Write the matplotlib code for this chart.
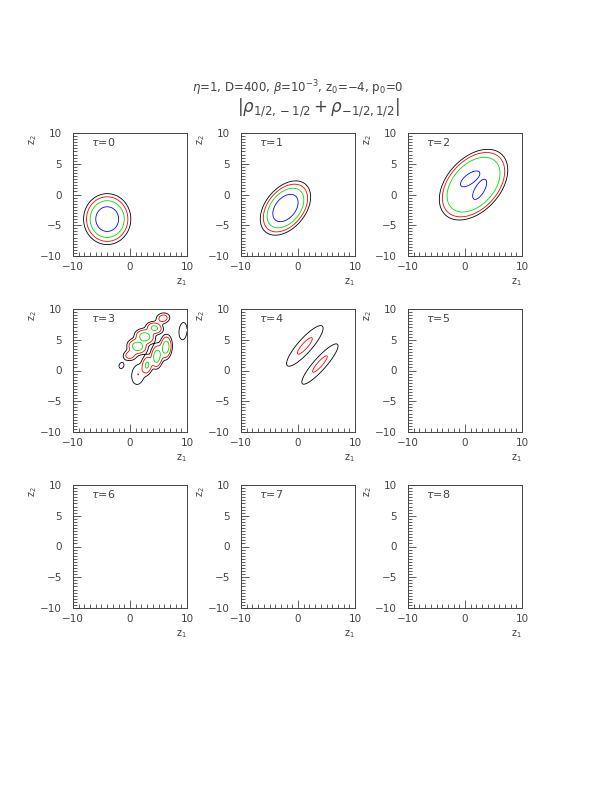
# Contours of |rho_{1/2,-1/2} + rho_{-1/2,1/2}| in the (z1, z2) plane for nine times tau
import numpy as np
import matplotlib
matplotlib.use("Agg")
import matplotlib.pyplot as plt
from matplotlib.ticker import MultipleLocator

taus = [0, 1, 2, 3, 4, 5, 6, 7, 8]

# contour levels and their colours
levels = [0.02, 0.05, 0.13, 0.40]
level_colors = ["black", "red", "#00dd00", "blue"]

# blobs: panel, centre, widths, tilt (deg), height, shape order
blob_tau = [0, 1, 2, 2, 2,
            3, 3, 3, 3, 3, 3, 3, 3, 3, 3, 3,
            4, 4]
blob_x = [-4.0, -2.2, 1.5, 0.8, 2.6,
          4.3, 2.6, 1.3, 5.8, 0.0, 6.3, 4.7, 3.0, 9.3, 1.4, -1.5,
          1.2, 3.85]
blob_y = [-4.0, -2.2, 1.6, 2.6, 0.65,
          6.9, 5.5, 3.9, 8.5, 2.5, 3.8, 2.3, 0.9, 6.4, -0.65, 0.8,
          4.0, 1.05]
blob_sa = [1.48, 1.85, 3.78, 1.05, 1.05,
           0.75, 0.85, 0.85, 0.7, 0.7, 0.95, 0.95, 0.8, 1.1, 1.2, 0.55,
           3.0, 3.0]
blob_sb = [1.48, 1.2, 2.43, 0.42, 0.42,
           0.5, 0.6, 0.6, 0.5, 0.5, 0.52, 0.52, 0.48, 0.55, 0.8, 0.45,
           0.8, 0.7]
blob_angle = [0, 45, 42, 33, 58,
              -10, -10, -10, 10, 10, 85, 85, 85, 85, 80, 60,
              46, 46]
blob_amp = [1.0, 1.1, 0.37, 0.3, 0.3,
            0.17, 0.22, 0.22, 0.085, 0.085, 0.22, 0.22, 0.15, 0.045, 0.05, 0.03,
            0.06, 0.06]
blob_order = [1, 1, 2, 1, 1,
              1, 1, 1, 1, 1, 1, 1, 1, 1, 1, 1,
              1, 1]

title1 = r"$\eta$=1, D=400, $\beta$=10$^{-3}$, z$_0$=$-$4, p$_0$=0"
title2 = r"$|\rho_{1/2,-1/2}+\rho_{-1/2,1/2}|$"

grid = np.linspace(-10, 10, 241)
X, Y = np.meshgrid(grid, grid)


def field_for(tau):
    f = np.zeros_like(X)
    for i in range(len(blob_tau)):
        if blob_tau[i] != tau:
            continue
        a = np.radians(blob_angle[i])
        dx = X - blob_x[i]
        dy = Y - blob_y[i]
        u = dx * np.cos(a) + dy * np.sin(a)
        v = -dx * np.sin(a) + dy * np.cos(a)
        q = (u / blob_sa[i]) ** 2 + (v / blob_sb[i]) ** 2
        f += blob_amp[i] * np.exp(-(q / 2) ** blob_order[i])
    return f


fig = plt.figure(figsize=(6.12, 7.92), dpi=100)
fig.patch.set_facecolor("white")

col_left = [73, 241, 408]
row_top = [133, 309, 485]
W, H = 114, 123
grey = "#444444"

for k, tau in enumerate(taus):
    r, c = divmod(k, 3)
    ax = fig.add_axes([col_left[c] / 612, 1 - (row_top[r] + H) / 792, W / 612, H / 792])
    f = field_for(tau)
    if f.max() > levels[0]:
        ax.contour(X, Y, f, levels=levels, colors=level_colors, linewidths=0.6)
    ax.set_xlim(-10, 10)
    ax.set_ylim(-10, 10)
    ax.xaxis.set_major_locator(MultipleLocator(10))
    ax.xaxis.set_minor_locator(MultipleLocator(1))
    ax.yaxis.set_major_locator(MultipleLocator(5))
    ax.yaxis.set_minor_locator(MultipleLocator(0.5))
    ax.tick_params(which="both", direction="in", color=grey, width=0.6,
                   top=False, right=False)
    ax.tick_params(which="major", length=6, labelsize=7.5, labelcolor=grey)
    ax.tick_params(which="minor", length=3)
    ax.tick_params(axis="y", which="major", pad=8)
    ax.tick_params(axis="x", which="major", pad=4)
    for s in ax.spines.values():
        s.set_color(grey)
        s.set_linewidth(0.7)
    ax.text(0.16, 0.93, r"$\tau$=%d" % tau, transform=ax.transAxes,
            fontsize=8, color=grey, va="center", ha="left")
    ax.text(0.95, -0.21, r"z$_1$", transform=ax.transAxes,
            fontsize=7, color=grey, va="center", ha="center")
    ax.text(-0.35, 0.95, r"z$_2$", transform=ax.transAxes, rotation=90,
            fontsize=7, color=grey, va="center", ha="center")

fig.text(0.487, 0.889, title1, ha="center", va="center", fontsize=8.5, color=grey)
fig.text(0.52, 0.864, title2, ha="center", va="center", fontsize=12, color=grey)

fig.savefig("out.png", dpi=100)
